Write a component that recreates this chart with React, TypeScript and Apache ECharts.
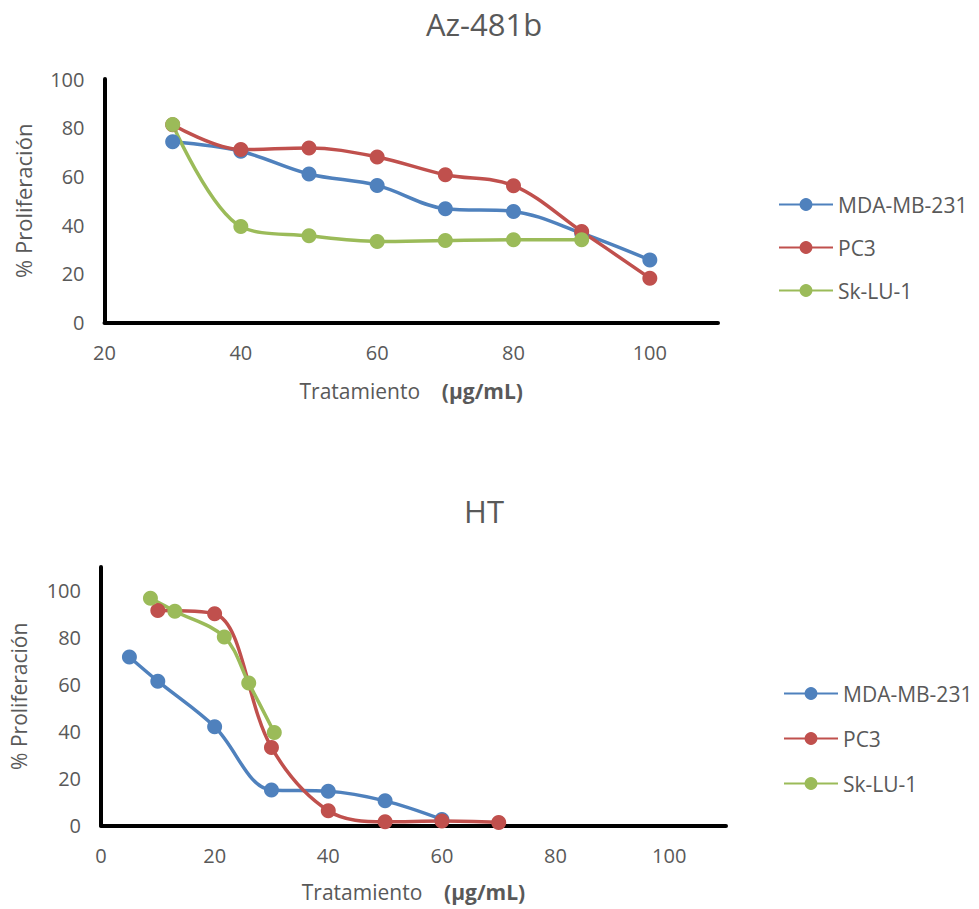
import React, { useEffect, useRef } from "react";
import * as echarts from "echarts";

// ---- Data: Az-481b ----
const topX = [30, 40, 50, 60, 70, 80, 90, 100];
const topMDA = [74.2, 70.3, 61.0, 56.3, 46.7, 45.6, 36.7, 25.7];
const topPC3 = [81.2, 71.0, 71.7, 68.0, 60.7, 56.2, 37.4, 18.2];
const topSkX = [30, 40, 50, 60, 70, 80, 90];
const topSk = [81.3, 39.4, 35.6, 33.3, 33.7, 34.0, 34.0];

// ---- Data: HT ----
const htMDAX = [5, 10, 20, 30, 40, 50, 60];
const htMDA = [71.7, 61.4, 42.0, 15.1, 14.6, 10.5, 2.6];
const htPC3X = [10, 20, 30, 40, 50, 60, 70];
const htPC3 = [91.5, 90.1, 33.2, 6.3, 1.6, 1.9, 1.3];
const htSkX = [8.7, 13, 21.7, 26, 30.5];
const htSk = [96.7, 91.2, 80.2, 60.6, 39.6];

const seriesNames = ["MDA-MB-231", "PC3", "Sk-LU-1"];
const colors = ["#4F81BD", "#C0504D", "#9BBB59"];
const titles = ["Az-481b", "HT"];
const yName = "% Proliferación";

const zip = (xs: number[], ys: number[]) => xs.map((x, i) => [x, ys[i]]);

const FONT = "'Open Sans', 'Noto Sans', sans-serif";
const GREY = "#595959";

export default function App() {
  const ref = useRef<HTMLDivElement>(null);
  useEffect(() => {
    if (!ref.current) return;
    const chart = echarts.init(ref.current, null, { renderer: "svg" });

    const axisLine = { show: true, lineStyle: { color: "#000", width: 4 } };
    const axisLabel = (max: number) => ({
      fontSize: 20,
      color: GREY,
      fontFamily: FONT,
      margin: 20,
      formatter: (v: number) => (v > max ? "" : String(v)),
    });
    const xName = {
      name: "{a|Tratamiento}    {b|(µg/mL)}",
      nameLocation: "middle" as const,
      nameTextStyle: {
        fontFamily: FONT,
        fontSize: 21,
        color: GREY,
        rich: {
          a: { fontFamily: FONT, fontSize: 21, color: GREY },
          b: { fontFamily: FONT, fontSize: 21, color: GREY, fontWeight: "bold" },
        },
      },
    };

    const mkSeries = (name: string, color: string, data: number[][], idx: number) => ({
      type: "line",
      name,
      xAxisIndex: idx,
      yAxisIndex: idx,
      data,
      smooth: 0.35,
      symbol: "circle",
      symbolSize: 15,
      lineStyle: { color, width: 3.5 },
      itemStyle: { color },
    });

    const legend = (left: number, top: number, gap: number) => ({
      orient: "vertical",
      left,
      top,
      padding: 0,
      itemWidth: 54,
      itemHeight: 16,
      itemGap: gap,
      data: seriesNames,
      textStyle: { fontFamily: FONT, fontSize: 21, color: GREY },
    });

    chart.setOption({
      animation: false,
      backgroundColor: "#fff",
      title: [
        {
          text: titles[0],
          left: 484,
          top: 8,
          textAlign: "center",
          padding: 0,
          textStyle: { fontFamily: FONT, fontSize: 31, fontWeight: "normal", color: GREY },
        },
        {
          text: titles[1],
          left: 484,
          top: 495,
          textAlign: "center",
          padding: 0,
          textStyle: { fontFamily: FONT, fontSize: 31, fontWeight: "normal", color: GREY },
        },
      ],
      legend: [legend(778, 194, 22), legend(783, 683, 24)],
      grid: [
        { left: 104.5, top: 79, width: 613.5, height: 243.5 },
        { left: 96, top: 567, width: 630, height: 258.5 },
      ],
      xAxis: [
        {
          type: "value",
          gridIndex: 0,
          min: 20,
          max: 110,
          interval: 20,
          axisLine,
          axisTick: { show: false },
          splitLine: { show: false },
          axisLabel: axisLabel(100),
          nameGap: 58,
          ...xName,
        },
        {
          type: "value",
          gridIndex: 1,
          min: 0,
          max: 110,
          interval: 20,
          axisLine,
          axisTick: { show: false },
          splitLine: { show: false },
          axisLabel: axisLabel(100),
          nameGap: 56,
          ...xName,
        },
      ],
      yAxis: [
        {
          type: "value",
          gridIndex: 0,
          min: 0,
          max: 100,
          interval: 20,
          axisLine,
          axisTick: { show: false },
          splitLine: { show: false },
          axisLabel: axisLabel(100),
          name: yName,
          nameLocation: "middle",
          nameGap: 71,
          nameTextStyle: { fontFamily: FONT, fontSize: 22, color: GREY },
        },
        {
          type: "value",
          gridIndex: 1,
          min: 0,
          max: 110,
          interval: 20,
          axisLine,
          axisTick: { show: false },
          splitLine: { show: false },
          axisLabel: axisLabel(100),
          name: yName,
          nameLocation: "middle",
          nameGap: 72,
          nameTextStyle: { fontFamily: FONT, fontSize: 21, color: GREY },
        },
      ],
      series: [
        mkSeries(seriesNames[0], colors[0], zip(topX, topMDA), 0),
        mkSeries(seriesNames[1], colors[1], zip(topX, topPC3), 0),
        mkSeries(seriesNames[2], colors[2], zip(topSkX, topSk), 0),
        mkSeries(seriesNames[0], colors[0], zip(htMDAX, htMDA), 1),
        mkSeries(seriesNames[1], colors[1], zip(htPC3X, htPC3), 1),
        mkSeries(seriesNames[2], colors[2], zip(htSkX, htSk), 1),
      ],
    });
    return () => chart.dispose();
  }, []);
  return (
    <div
      ref={ref}
      style={{ position: "absolute", left: 0, top: 0, width: 979, height: 909 }}
    />
  );
}
